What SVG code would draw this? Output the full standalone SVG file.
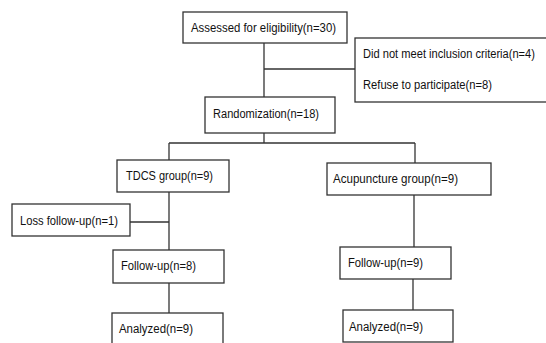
<svg xmlns="http://www.w3.org/2000/svg" width="546" height="343" viewBox="0 0 546 343">
<style>
.box{fill:#fff;stroke:#333;stroke-width:1.3}
.ln{fill:none;stroke:#333;stroke-width:1.3}
text{font-family:"Liberation Sans",Arial,sans-serif;font-size:12.5px;fill:#111}
</style>
<rect width="546" height="343" fill="#fff"/>
<g id="connectors">
<path class="ln" d="M264 43V97"/>
<path class="ln" d="M264 69H355"/>
<path class="ln" d="M264 133V143"/>
<path class="ln" d="M169 143H415"/>
<path class="ln" d="M169 143V160"/>
<path class="ln" d="M415 143V163"/>
<path class="ln" d="M169 192V250"/>
<path class="ln" d="M130 222H169"/>
<path class="ln" d="M169 283V313"/>
<path class="ln" d="M414 195V247"/>
<path class="ln" d="M413 279V310"/>
</g>
<g id="assessed"><rect class="box" x="183" y="12" width="164" height="31"/><text x="191" y="32" textLength="145" lengthAdjust="spacingAndGlyphs">Assessed for eligibility(n=30)</text></g>
<g id="excluded"><rect class="box" x="355" y="38" width="200" height="64"/><text x="363" y="58" textLength="172" lengthAdjust="spacingAndGlyphs">Did not meet inclusion criteria(n=4)</text><text x="363" y="89" textLength="129" lengthAdjust="spacingAndGlyphs">Refuse to participate(n=8)</text></g>
<g id="randomization"><rect class="box" x="205" y="97" width="130" height="36"/><text x="213" y="118" textLength="106" lengthAdjust="spacingAndGlyphs">Randomization(n=18)</text></g>
<g id="tdcs"><rect class="box" x="117" y="160" width="112" height="32"/><text x="126" y="180" textLength="87" lengthAdjust="spacingAndGlyphs">TDCS group(n=9)</text></g>
<g id="loss"><rect class="box" x="12" y="204" width="118" height="32"/><text x="20" y="225" textLength="98" lengthAdjust="spacingAndGlyphs">Loss follow-up(n=1)</text></g>
<g id="acupuncture"><rect class="box" x="327" y="163" width="164" height="32"/><text x="333" y="183" textLength="125" lengthAdjust="spacingAndGlyphs">Acupuncture group(n=9)</text></g>
<g id="followup-left"><rect class="box" x="113" y="250" width="111" height="33"/><text x="121" y="270" textLength="75" lengthAdjust="spacingAndGlyphs">Follow-up(n=8)</text></g>
<g id="analyzed-left"><rect class="box" x="112" y="313" width="111" height="40"/><text x="119" y="333" textLength="74" lengthAdjust="spacingAndGlyphs">Analyzed(n=9)</text></g>
<g id="followup-right"><rect class="box" x="340" y="247" width="111" height="32"/><text x="348" y="267" textLength="75" lengthAdjust="spacingAndGlyphs">Follow-up(n=9)</text></g>
<g id="analyzed-right"><rect class="box" x="343" y="310" width="110" height="32"/><text x="349" y="331" textLength="74" lengthAdjust="spacingAndGlyphs">Analyzed(n=9)</text></g>
</svg>
